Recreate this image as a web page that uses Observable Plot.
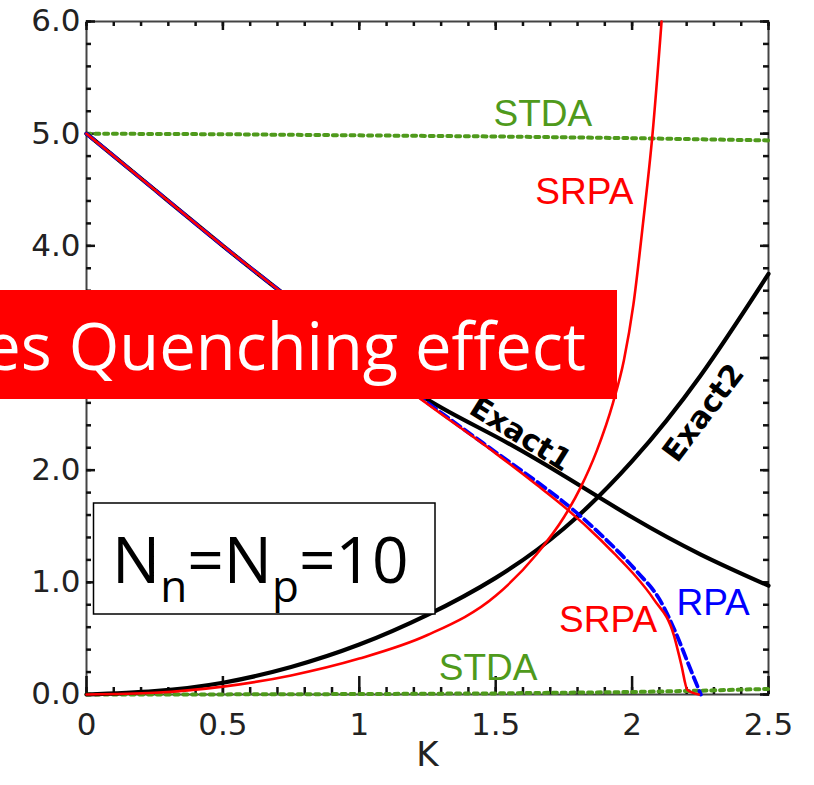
<!DOCTYPE html>
<html>
<head>
<meta charset="utf-8">
<script src="https://cdn.jsdelivr.net/npm/d3@7"></script>
<script src="https://cdn.jsdelivr.net/npm/@observablehq/plot@0.6"></script>
<style>
  body { margin: 0; background: #fff; }
  #chart { width: 814px; height: 785px; overflow: hidden; }
</style>
</head>
<body>
<div id="chart"></div>
<script>
// ---- data ----
const exact1K = [0, 0.25, 0.5, 0.75, 1.0, 1.25, 1.5, 1.75, 2.0, 2.25, 2.5];
const exact1E = [5.0, 4.50, 4.00, 3.52, 3.06, 2.63, 2.30, 1.95, 1.58, 1.25, 0.97];

const exact2K = [0, 0.25, 0.5, 0.75, 1.0, 1.25, 1.5, 1.75, 2.0, 2.25, 2.5];
const exact2E = [0, 0.03, 0.105, 0.245, 0.445, 0.71, 1.04, 1.48, 2.08, 2.84, 3.75];

const srpaUpK = [0, 0.25, 0.5, 0.75, 1.0, 1.25, 1.5, 1.65, 1.75, 1.81, 1.87, 1.93, 1.97, 2.005, 2.04, 2.075, 2.108];
const srpaUpE = [0, 0.015, 0.07, 0.17, 0.32, 0.53, 0.88, 1.25, 1.58, 1.84, 2.17, 2.60, 2.98, 3.48, 4.2, 5.0, 6.0];

const srpaDnK = [0, 0.25, 0.5, 0.75, 1.0, 1.25, 1.5, 1.65, 1.76, 1.884, 1.933, 2.0, 2.079, 2.153, 2.18, 2.203, 2.245];
const srpaDnE = [5.0, 4.50, 4.00, 3.52, 3.05, 2.59, 2.15, 1.87, 1.655, 1.38, 1.26, 1.09, 0.85, 0.53, 0.27, 0.04, 0.0];

const rpaK = [0, 0.25, 0.5, 0.75, 1.0, 1.25, 1.5, 1.66, 1.775, 1.905, 1.955, 2.02, 2.10, 2.167, 2.20, 2.235, 2.252];
const rpaE = [5.0, 4.50, 4.00, 3.52, 3.05, 2.60, 2.16, 1.88, 1.665, 1.38, 1.26, 1.09, 0.85, 0.51, 0.31, 0.10, 0.0];

const stdaUpK = [0, 0.5, 1.0, 1.5, 2.0, 2.25, 2.5];
const stdaUpE = [5.0, 4.995, 4.985, 4.975, 4.96, 4.95, 4.94];
const stdaLoK = [0, 0.5, 1.0, 1.5, 2.0, 2.25, 2.5];
const stdaLoE = [0, 0.001, 0.004, 0.01, 0.022, 0.034, 0.05];

const xMajor = [0, 0.5, 1, 1.5, 2, 2.5];
const xTickLabels = ["0", "0.5", "1", "1.5", "2", "2.5"];
const yMajor = [0, 1, 2, 3, 4, 5, 6];
const yTickLabels = ["0.0", "1.0", "2.0", "3.0", "4.0", "5.0", "6.0"];
const xAxisTitle = "K";
const bannerText = "es Quenching effect";

// ---- helpers ----
const rows = (ks, es) => ks.map((k, i) => ({K: k, E: es[i]}));
const xMinor = d3.range(0, 26).map(i => i / 10);
const yMinor = d3.range(0, 31).map(i => i / 5);
const GREEN = "#4f9a1c";
const TK = {stroke: "#111", strokeWidth: 2.5};

const chart = Plot.plot({
  width: 814, height: 785,
  marginLeft: 86, marginRight: 46, marginTop: 21, marginBottom: 91,
  x: {domain: [0, 2.5], label: null},
  y: {domain: [0, 6], label: null},
  marks: [
    Plot.frame({stroke: "#444", strokeWidth: 2}),
    // inward ticks
    Plot.axisX({...TK, ticks: xMinor, anchor: "bottom", tickSize: -7, fill: "none"}),
    Plot.axisX({...TK, ticks: xMajor, anchor: "bottom", tickSize: -18, fill: "none"}),
    Plot.axisX({...TK, ticks: xMinor, anchor: "top", tickSize: -4, fill: "none"}),
    Plot.axisX({...TK, ticks: xMajor, anchor: "top", tickSize: -8, fill: "none"}),
    Plot.axisY({...TK, ticks: yMinor, anchor: "left", tickSize: -5, fill: "none"}),
    Plot.axisY({...TK, ticks: yMajor, anchor: "left", tickSize: -9, fill: "none"}),
    Plot.axisY({...TK, ticks: yMinor, anchor: "right", tickSize: -6, fill: "none"}),
    Plot.axisY({...TK, ticks: yMajor, anchor: "right", tickSize: -9, fill: "none"}),
    // tick labels
    Plot.axisX({ticks: xMajor, anchor: "bottom", tickSize: 0, tickPadding: 18, label: null,
      tickFormat: d => xTickLabels[xMajor.indexOf(d)], fontSize: 31, fontFamily: "DejaVu Sans", fill: "#222"}),
    Plot.axisY({ticks: yMajor, anchor: "left", tickSize: 0, tickPadding: 6, label: null,
      tickFormat: d => yTickLabels[yMajor.indexOf(d)], fontSize: 31, fontFamily: "DejaVu Sans", fill: "#222"}),
    Plot.text([xAxisTitle], {text: d => d, frameAnchor: "bottom", dy: 71, fontSize: 34, fontFamily: "DejaVu Sans", fill: "#222"}),
    // curves
    Plot.line(rows(stdaUpK, stdaUpE), {x: "K", y: "E", stroke: GREEN, strokeWidth: 4, strokeDasharray: "4,4.8"}),
    Plot.line(rows(stdaLoK, stdaLoE), {x: "K", y: "E", stroke: GREEN, strokeWidth: 4, strokeDasharray: "4,4.8"}),
    Plot.line(rows(exact1K, exact1E), {x: "K", y: "E", stroke: "#000", strokeWidth: 4.2, curve: "natural"}),
    Plot.line(rows(exact2K, exact2E), {x: "K", y: "E", stroke: "#000", strokeWidth: 4.2, curve: "natural"}),
    Plot.line(rows(rpaK, rpaE), {x: "K", y: "E", stroke: "#0000ff", strokeWidth: 3.8, strokeDasharray: "10,5", curve: "monotone-x"}),
    Plot.line(rows(srpaDnK, srpaDnE), {x: "K", y: "E", stroke: "#ff0000", strokeWidth: 2.6, curve: "monotone-x"}),
    Plot.line(rows(srpaUpK, srpaUpE), {x: "K", y: "E", stroke: "#ff0000", strokeWidth: 2.6, curve: "monotone-x"}),
    // curve labels
    Plot.text(["STDA"], {text: d => d, x: 1.673, y: 5.17, fill: GREEN, fontSize: 37, fontFamily: "Liberation Sans"}),
    Plot.text(["SRPA"], {text: d => d, x: 1.825, y: 4.48, fill: "#ff0000", fontSize: 37, fontFamily: "Liberation Sans"}),
    Plot.text(["Exact1"], {text: d => d, x: 1.591, y: 2.32, rotate: 32, fill: "#000", fontSize: 30, fontWeight: "bold", fontFamily: "DejaVu Sans"}),
    Plot.text(["Exact2"], {text: d => d, x: 2.262, y: 2.51, rotate: -53, fill: "#000", fontSize: 30, fontWeight: "bold", fontFamily: "DejaVu Sans"}),
    Plot.text(["RPA"], {text: d => d, x: 2.297, y: 0.815, fill: "#0000ff", fontSize: 37, fontFamily: "Liberation Sans"}),
    Plot.text(["SRPA"], {text: d => d, x: 1.912, y: 0.66, fill: "#ff0000", fontSize: 37, fontFamily: "Liberation Sans"}),
    Plot.text(["STDA"], {text: d => d, x: 1.472, y: 0.236, fill: GREEN, fontSize: 37, fontFamily: "Liberation Sans"})
  ]
});

// ---- overlays (slide annotations on top of the figure) ----
const svg = d3.select(chart);
svg.append("rect").attr("x", 93.5).attr("y", 503).attr("width", 341.5).attr("height", 111)
  .attr("fill", "#fff").attr("stroke", "#000").attr("stroke-width", 1.5);
const t = svg.append("text").attr("x", 112).attr("y", 583).attr("text-anchor", "start")
  .attr("font-family", "Open Sans").attr("font-size", 64).attr("fill", "#000");
t.append("tspan").text("N");
t.append("tspan").attr("font-size", 44).attr("dy", 19).text("n");
t.append("tspan").attr("dy", -19).text("=N");
t.append("tspan").attr("font-size", 44).attr("dy", 19).text("p");
t.append("tspan").attr("dy", -19).text("=10");
svg.append("rect").attr("x", 0).attr("y", 290).attr("width", 617).attr("height", 109).attr("fill", "#ff0000");
svg.append("text").attr("x", 586).attr("y", 370).attr("text-anchor", "end")
  .attr("font-family", "Open Sans").attr("font-size", 65).attr("fill", "#fff").text(bannerText);

document.getElementById("chart").append(chart);
</script>
</body>
</html>
